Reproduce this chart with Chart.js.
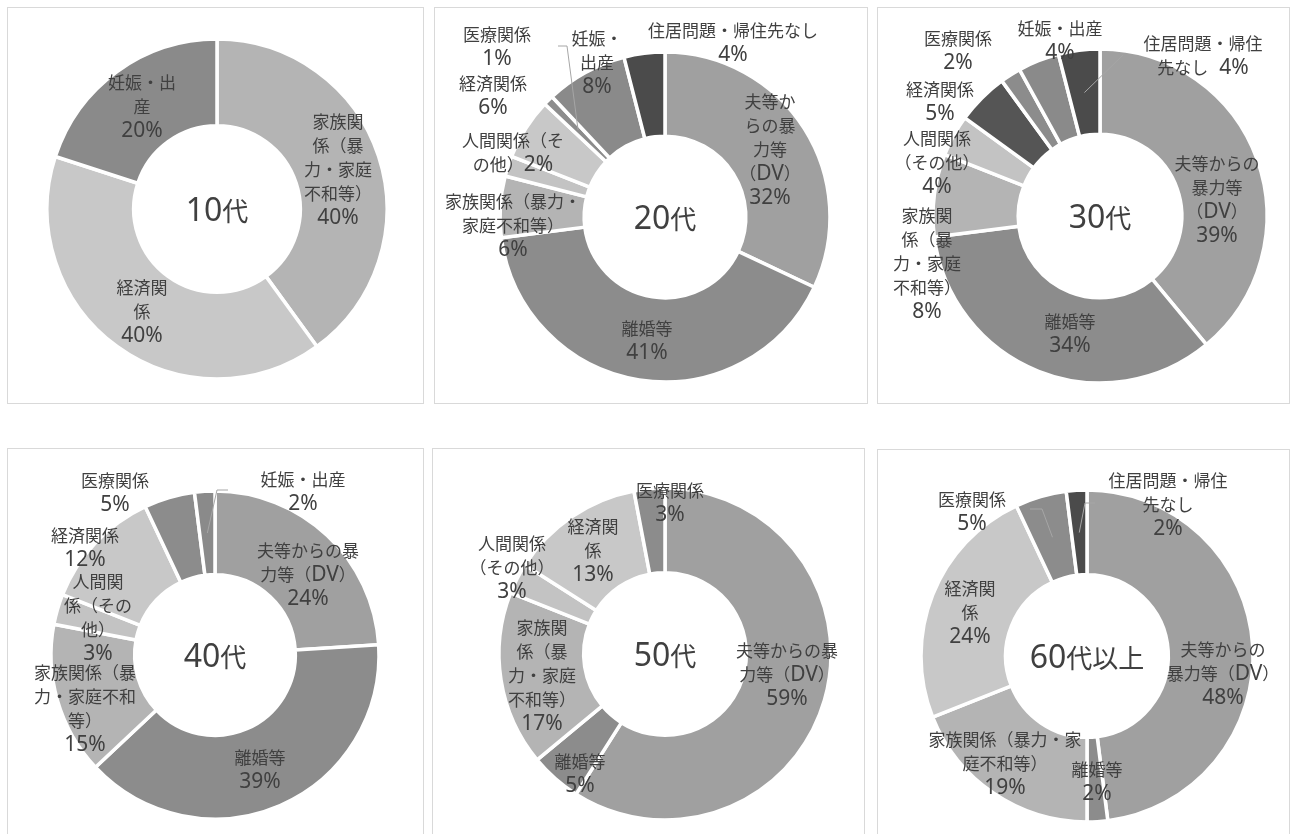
<!DOCTYPE html>
<html lang="ja">
<head>
<meta charset="utf-8">
<title>年代別 相談内容の内訳</title>
<script src="https://cdn.jsdelivr.net/npm/chart.js@4.4.1/dist/chart.umd.min.js"></script>
<style>
  html, body { margin: 0; padding: 0; background: #fff; overflow: hidden; }
  body { width: 1292px; height: 834px; position: relative; }
  .box { position: absolute; border: 1px solid #d9d9d9; box-sizing: border-box; background: #fff; }
  .box canvas { position: absolute; left: 0; top: 0; }
</style>
</head>
<body>
<script>
// categories (same order in every chart, clockwise from 12 o'clock)
const categories = [
  '夫等からの暴力等（DV）',
  '離婚等',
  '家族関係（暴力・家庭不和等）',
  '人間関係（その他）',
  '経済関係',
  '医療関係',
  '妊娠・出産',
  '住居問題・帰住先なし'
];
const ageGroups = ['10代', '20代', '30代', '40代', '50代', '60代以上'];

// percent per category
const pct10s = [0, 0, 40, 0, 40, 0, 20, 0];
const pct20s = [32, 41, 6, 2, 6, 1, 8, 4];
const pct30s = [39, 34, 8, 4, 5, 2, 4, 4];
const pct40s = [24, 39, 15, 3, 12, 5, 2, 0];
const pct50s = [59, 5, 17, 3, 13, 3, 0, 0];
const pct60s = [48, 2, 19, 0, 24, 5, 0, 2];
const seriesByAge = [pct10s, pct20s, pct30s, pct40s, pct50s, pct60s];

// grey palette per category
const basePalette = ['#a0a0a0', '#8c8c8c', '#b4b4b4', '#c3c3c3', '#c8c8c8', '#8c8c8c', '#8a8a8a', '#4b4b4b'];

// panel layout: box [x,y,w,h], donut centre, radius, label placement (offsets from centre)
// br = where the category name wraps, inl = put the percent on the last line
const panels = [
  { box: [7, 7, 417, 397], c: [217, 209], r: 168, colors: {},
    labels: {
      2: { at: [121, -39], br: [3, 6, 10] },
      4: { at: [-75, 103], br: [3] },
      6: { at: [-75, -102], br: [4] }
    } },
  { box: [434, 7, 434, 397], c: [665, 217], r: 163, colors: {},
    labels: {
      0: { at: [105, -67], br: [3, 6, 8] },
      1: { at: [-18, 124], br: [] },
      2: { at: [-152, 9], br: [8] },
      3: { at: [-152, -64], br: [6], inl: '' },
      4: { at: [-172, -121], br: [] },
      5: { at: [-168, -170], br: [], ld: [[-107, -171], [-98, -171]] },
      6: { at: [-68, -154], br: [3] },
      7: { at: [68, -174], br: [] }
    } },
  { box: [877, 7, 413, 397], c: [1100, 216], r: 165, colors: { 4: '#555555' },
    labels: {
      0: { at: [117, -16], br: [5, 8] },
      1: { at: [-30, 118], br: [] },
      2: { at: [-173, 48], br: [3, 6, 10] },
      3: { at: [-163, -53], br: [4] },
      4: { at: [-160, -114], br: [] },
      5: { at: [-142, -165], br: [] },
      6: { at: [-40, -175], br: [] },
      7: { at: [103, -160], br: [7], inl: '  ', ld: [[23, -161]] }
    } },
  { box: [7, 448, 417, 397], c: [215, 655], r: 162, colors: {},
    labels: {
      0: { at: [93, -80], br: [6] },
      1: { at: [45, 115], br: [] },
      2: { at: [-130, 54], br: [6, 12] },
      3: { at: [-117, -37], br: [3, 7] },
      4: { at: [-130, -107], br: [] },
      5: { at: [-100, -162], br: [] },
      6: { at: [88, -163], br: [], ld: [[13, -165], [2, -165]] }
    } },
  { box: [432, 448, 433, 397], c: [665, 654], r: 164, colors: {},
    labels: {
      0: { at: [122, 21], br: [6] },
      1: { at: [-85, 120], br: [] },
      2: { at: [-123, 22], br: [3, 6, 10] },
      3: { at: [-153, -86], br: [4] },
      4: { at: [-72, -103], br: [3] },
      5: { at: [5, -151], br: [] }
    } },
  { box: [877, 449, 413, 397], c: [1087, 656], r: 164, colors: {},
    labels: {
      0: { at: [136, 18], br: [5] },
      1: { at: [10, 126], br: [] },
      2: { at: [-82, 108], br: [9] },
      4: { at: [-117, -43], br: [3] },
      5: { at: [-115, -144], br: [], ld: [[-57, -147], [-45, -147]] },
      7: { at: [81, -151], br: [7], ld: [[8, -153], [-2, -153]] }
    } }
];

const TEXT = '#404040';
const CJK = '"Noto Sans CJK JP", sans-serif';
const LATIN = '"Noto Sans", "Noto Sans CJK JP", sans-serif';

function splitName(name, br) {
  const out = [];
  let from = 0;
  br.forEach(function(i) { out.push(name.slice(from, i)); from = i; });
  out.push(name.slice(from));
  return out;
}

// latin runs (digits, %, DV) are set a bit larger than the kana/kanji, like the original
function drawMixed(ctx, text, x, y, size) {
  const runs = text.match(/[\x20-\x7e]+|[^\x20-\x7e]+/g) || [];
  const fonts = runs.map(function(r) {
    return /^[\x20-\x7e]/.test(r) ? Math.round(size * 1.22) + 'px ' + LATIN : size + 'px ' + CJK;
  });
  let total = 0;
  const widths = runs.map(function(r, i) {
    ctx.font = fonts[i];
    const w = ctx.measureText(r).width;
    total += w;
    return w;
  });
  let cur = x - total / 2;
  ctx.textAlign = 'left';
  ctx.textBaseline = 'alphabetic';
  runs.forEach(function(r, i) {
    ctx.font = fonts[i];
    ctx.fillText(r, cur, y + size * 0.36);
    cur += widths[i];
  });
}

// data labels + leader lines, drawn from each arc's own geometry
const sliceLabels = {
  id: 'sliceLabels',
  afterDatasetsDraw(chart, args, opts) {
    const ctx = chart.ctx;
    const arcs = chart.getDatasetMeta(0).data;
    const ds = chart.data.datasets[0];
    ctx.save();
    ds.catIndex.forEach(function(k, i) {
      const lay = opts.layout[k];
      if (!lay) return;
      const arc = arcs[i];
      const cx = arc.x, cy = arc.y;
      if (lay.ld) {
        const p = arc.tooltipPosition();
        ctx.strokeStyle = '#a6a6a6';
        ctx.lineWidth = 1;
        ctx.beginPath();
        lay.ld.forEach(function(pt, j) {
          if (j === 0) ctx.moveTo(cx + pt[0], cy + pt[1]);
          else ctx.lineTo(cx + pt[0], cy + pt[1]);
        });
        ctx.lineTo(p.x, p.y);
        ctx.stroke();
      }
      const lines = splitName(chart.data.labels[i], lay.br);
      const pct = ds.data[i] + '%';
      if (lay.inl !== undefined) lines[lines.length - 1] += lay.inl + pct;
      else lines.push(pct);
      const lh = 24;
      ctx.fillStyle = TEXT;
      const y0 = cy + lay.at[1] - (lines.length - 1) * lh / 2;
      lines.forEach(function(t, j) {
        drawMixed(ctx, t, cx + lay.at[0], y0 + j * lh, 17);
      });
    });
    ctx.restore();
  }
};

const centerTitle = {
  id: 'centerTitle',
  afterDatasetsDraw(chart, args, opts) {
    const arc = chart.getDatasetMeta(0).data[0];
    const ctx = chart.ctx;
    ctx.save();
    ctx.fillStyle = TEXT;
    drawMixed(ctx, opts.text, arc.x, arc.y + 3, 26);
    ctx.restore();
  }
};

panels.forEach(function(p, n) {
  const [bx, by, bw, bh] = p.box;
  const box = document.createElement('div');
  box.className = 'box';
  box.style.left = bx + 'px';
  box.style.top = by + 'px';
  box.style.width = bw + 'px';
  box.style.height = bh + 'px';
  const canvas = document.createElement('canvas');
  const cw = bw - 2, ch = bh - 2;
  canvas.width = cw;
  canvas.height = ch;
  canvas.style.width = cw + 'px';
  canvas.style.height = ch + 'px';
  box.appendChild(canvas);
  document.body.appendChild(box);

  // keep only non-zero categories
  const values = seriesByAge[n];
  const idx = [];
  values.forEach(function(v, k) { if (v > 0) idx.push(k); });

  const ccx = p.c[0] - bx - 1, ccy = p.c[1] - by - 1;
  const R = p.r + 2;

  new Chart(canvas, {
    type: 'doughnut',
    data: {
      labels: idx.map(function(k) { return categories[k]; }),
      datasets: [{
        data: idx.map(function(k) { return values[k]; }),
        catIndex: idx,
        backgroundColor: idx.map(function(k) { return p.colors[k] || basePalette[k]; }),
        borderColor: '#ffffff',
        borderWidth: 3.5
      }]
    },
    options: {
      responsive: false,
      animation: false,
      events: [],
      radius: R,
      cutout: '49%',
      layout: {
        padding: { left: ccx - R, top: ccy - R, right: cw - ccx - R, bottom: ch - ccy - R }
      },
      plugins: {
        legend: { display: false },
        tooltip: { enabled: false },
        sliceLabels: { layout: p.labels },
        centerTitle: { text: ageGroups[n] }
      }
    },
    plugins: [sliceLabels, centerTitle]
  });
});
</script>
</body>
</html>
